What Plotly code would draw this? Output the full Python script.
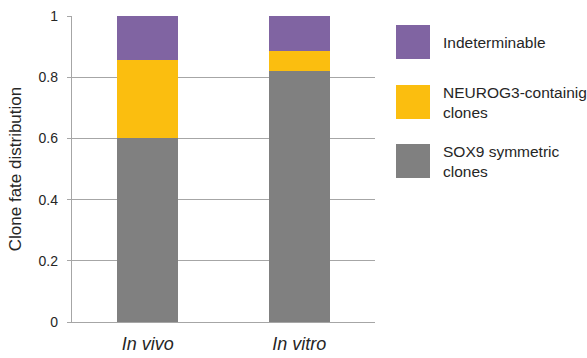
import plotly.graph_objects as go

# Clone fate fractions per condition (stacked bottom to top)
conditions = ["<i>In vivo</i>", "<i>In vitro</i>"]
series_names = ["SOX9 symmetric<br>clones", "NEUROG3-containig<br>clones", "Indeterminable"]
sox9_symmetric = [0.600, 0.821]
neurog3_containing = [0.256, 0.064]
indeterminable = [0.144, 0.115]
y_ticks = [0, 0.2, 0.4, 0.6, 0.8, 1]

colors = ["#808080", "#FBBE0F", "#8064A2"]
values = [sox9_symmetric, neurog3_containing, indeterminable]

font_family = "Liberation Sans, Arial, sans-serif"
text_color = "#262626"
grid = "#A6A6A6"

fig = go.Figure()
for name, vals, col in zip(series_names, values, colors):
    fig.add_trace(go.Bar(
        x=conditions, y=vals, name=name, width=0.4,
        marker=dict(color=col, line=dict(width=0)),
        showlegend=False,
    ))

# Custom legend: large square swatches with labels to the right
W, H = 587, 358
L, R, T, B = 72, 212, 16, 36
pw, ph = W - L - R, H - T - B


def px_x(px):
    return (px - L) / pw


def px_y(py):
    return (H - B - py) / ph


legend_order = [2, 1, 0]
swatch_tops = [25, 85, 144]
for idx, top in zip(legend_order, swatch_tops):
    fig.add_shape(type="rect", xref="paper", yref="paper",
                  x0=px_x(396), x1=px_x(430), y0=px_y(top + 34), y1=px_y(top),
                  fillcolor=colors[idx], line=dict(width=0), layer="above")
    fig.add_annotation(xref="paper", yref="paper", x=px_x(441), y=px_y(top + 17),
                       xanchor="left", yanchor="middle", align="left",
                       text=series_names[idx], showarrow=False,
                       font=dict(family=font_family, size=15.5, color=text_color))

fig.update_layout(
    barmode="stack",
    width=W, height=H,
    margin=dict(l=L, r=R, t=T, b=B, pad=0, autoexpand=False),
    plot_bgcolor="white", paper_bgcolor="white",
    font=dict(family=font_family, color=text_color),
)
fig.update_yaxes(
    range=[0, 1], tickvals=y_ticks, ticktext=[f"{v:g}" for v in y_ticks],
    automargin=False,
    showgrid=True, gridcolor=grid, gridwidth=1.3,
    showline=True, linecolor=grid, linewidth=1.3,
    ticks="outside", ticklen=4, tickcolor=grid, tickwidth=1.3,
    ticklabelstandoff=6,
    tickfont=dict(family=font_family, size=14, color=text_color),
    title=dict(text="Clone fate distribution", standoff=12,
               font=dict(family=font_family, size=17, color=text_color)),
    zeroline=False,
)
fig.update_xaxes(
    automargin=False,
    showline=True, linecolor=grid, linewidth=1.3,
    ticks="", ticklabelstandoff=5,
    tickfont=dict(family=font_family, size=18, color=text_color),
)

fig.write_html("out.html")
